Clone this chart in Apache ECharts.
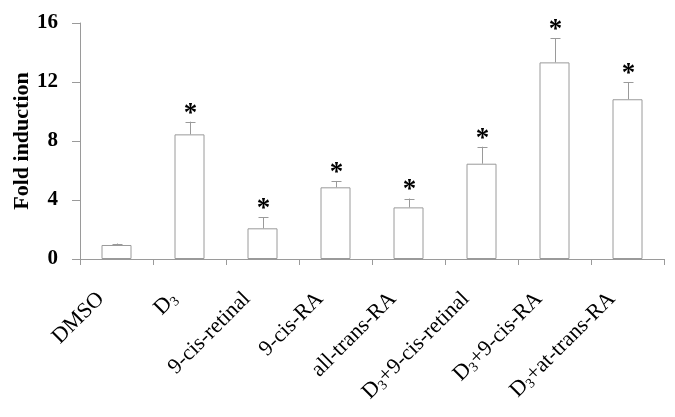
<!DOCTYPE html>
<html>
<head>
<meta charset="utf-8">
<script src="https://cdn.jsdelivr.net/npm/echarts@6/dist/echarts.min.js"></script>
<style>html,body{margin:0;padding:0;background:#fff}#c{width:675px;height:417px}</style>
</head>
<body>
<div id="c"></div>
<script>
var categories = ['DMSO', 'D3', '9-cis-retinal', '9-cis-RA', 'all-trans-RA', 'D3+9-cis-retinal', 'D3+9-cis-RA', 'D3+at-trans-RA'];
var foldValues = [0.95, 8.45, 2.08, 4.86, 3.5, 6.46, 13.33, 10.83];
var errorValues = [0.1, 0.86, 0.75, 0.43, 0.6, 1.15, 1.63, 1.15];
var significant = [false, true, true, true, true, true, true, true];
var yTicks = [0, 4, 8, 12, 16];

var serif = '"Liberation Serif", "Times New Roman", serif';
var gray = '#9a9a9a';

var errData = categories.map(function (c, i) { return [i, foldValues[i], errorValues[i], significant[i] ? 1 : 0]; });

var chart = echarts.init(document.getElementById('c'));
chart.setOption({
  animation: false,
  backgroundColor: '#fff',
  grid: { left: 80, right: 11, top: 23, bottom: 158, containLabel: false, outerBoundsMode: 'none' },
  xAxis: {
    type: 'category',
    data: categories,
    boundaryGap: true,
    axisLine: { lineStyle: { color: gray, width: 1 } },
    axisTick: { show: true, alignWithLabel: false, length: 6, lineStyle: { color: gray } },
    axisLabel: {
      interval: 0,
      rotate: 45,
      margin: 21,
      padding: [0, 22, 0, 0],
      color: '#000',
      fontFamily: serif,
      fontSize: 22,
      formatter: function (v) { return v.replace(/D3/g, 'D{sub|3}'); },
      rich: {
        sub: { fontFamily: serif, fontSize: 14, color: '#000', verticalAlign: 'bottom', padding: [10, 0, 0, 0] }
      }
    }
  },
  yAxis: {
    type: 'value',
    min: yTicks[0],
    max: yTicks[yTicks.length - 1],
    interval: 4,
    splitLine: { show: false },
    axisLine: { show: true, lineStyle: { color: gray, width: 1 } },
    axisTick: { show: true, length: 8, lineStyle: { color: gray } },
    axisLabel: { margin: 22, color: '#000', fontFamily: serif, fontSize: 21, fontWeight: 'bold' },
    name: 'Fold induction',
    nameLocation: 'middle',
    nameRotate: 90,
    nameGap: 47,
    nameMoveOverlap: false,
    nameTextStyle: { fontFamily: serif, fontSize: 22, fontWeight: 'bold', color: '#000' }
  },
  series: [
    {
      type: 'bar',
      data: foldValues,
      barWidth: 30,
      itemStyle: { color: '#fff', borderColor: gray, borderWidth: 1 },
      z: 2
    },
    {
      type: 'custom',
      data: errData,
      z: 3,
      renderItem: function (params, api) {
        var i = api.value(0), v = api.value(1), e = api.value(2), s = api.value(3);
        var top = api.coord([i, v]);
        var cap = api.coord([i, v + e]);
        var x = Math.round(top[0]) + 0.5;
        var children = [
          { type: 'line', shape: { x1: x, y1: top[1], x2: x, y2: cap[1] }, style: { stroke: gray, lineWidth: 1 } },
          { type: 'line', shape: { x1: x - 5, y1: Math.round(cap[1]) + 0.5, x2: x + 5, y2: Math.round(cap[1]) + 0.5 }, style: { stroke: gray, lineWidth: 1 } }
        ];
        if (s) {
          children.push({
            type: 'text',
            style: { x: x, y: cap[1] - 8, text: '*', fill: '#000', font: 'bold 27px ' + serif, align: 'center', verticalAlign: 'middle' }
          });
        }
        return { type: 'group', children: children };
      }
    }
  ]
});
</script>
</body>
</html>
